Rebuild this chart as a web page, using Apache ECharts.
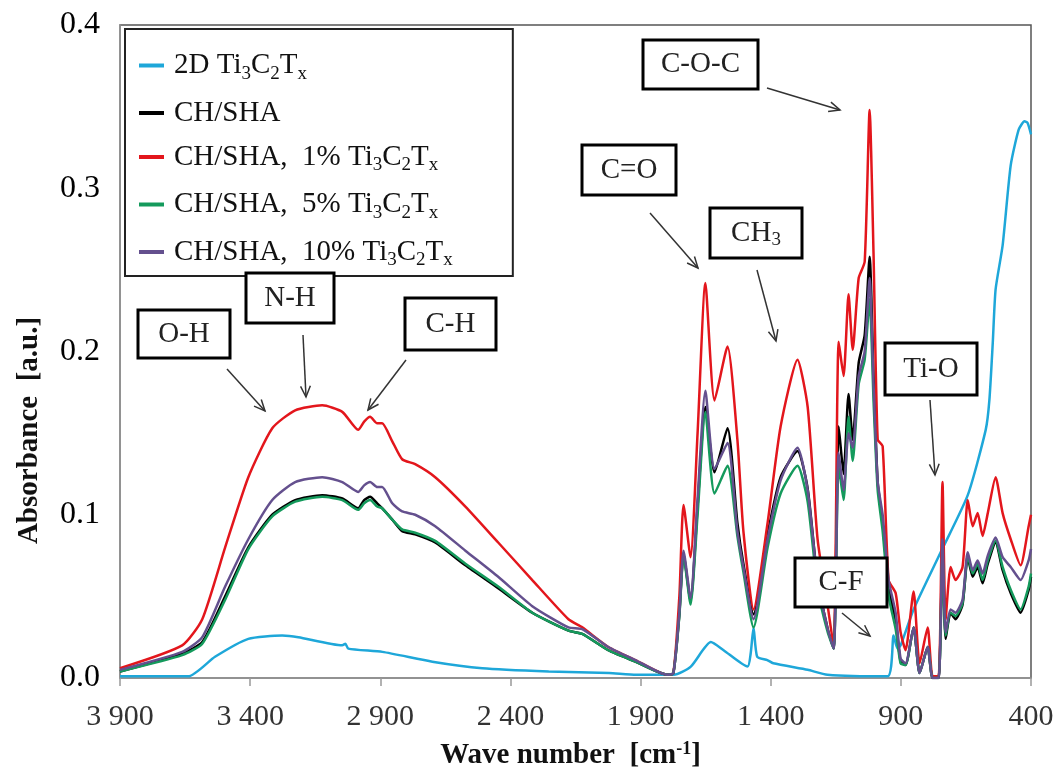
<!DOCTYPE html>
<html>
<head>
<meta charset="utf-8">
<script src="https://cdn.jsdelivr.net/npm/echarts@6/dist/echarts.min.js"></script>
<style>
html, body { margin: 0; padding: 0; background: #fff; }
#main { width: 1059px; height: 771px; }
</style>
</head>
<body>
<div id="main"></div>
<script>
// wave numbers shared by the four CH/SHA spectra
var wavenumbers = [3900, 3661, 3584, 3496, 3407, 3315, 3227, 3123, 3046, 2985,
  2962, 2939, 2912, 2893, 2854, 2816, 2766, 2689, 2573, 2447,
  2316, 2177, 2124, 2024, 1920, 1797, 1774, 1751, 1735, 1708,
  1681, 1651, 1616, 1566, 1528, 1505, 1466, 1412, 1362, 1297,
  1258, 1220, 1181, 1158, 1139, 1120, 1101, 1085, 1062, 1039,
  1020, 1005, 989, 970, 947, 920, 901, 882, 851, 828,
  797, 778, 755, 740, 728, 709, 690, 663, 643, 624,
  605, 586, 566, 536, 509, 478, 440, 409, 400];

var chsha = [0.004, 0.015, 0.022, 0.050, 0.080, 0.100, 0.109, 0.112, 0.110, 0.104,
  0.109, 0.111, 0.107, 0.104, 0.097, 0.090, 0.088, 0.083, 0.069, 0.055,
  0.040, 0.029, 0.027, 0.017, 0.010, 0.002, 0.003, 0.039, 0.076, 0.047,
  0.105, 0.166, 0.126, 0.153, 0.095, 0.070, 0.039, 0.088, 0.123, 0.139,
  0.116, 0.060, 0.030, 0.018, 0.154, 0.125, 0.174, 0.146, 0.193, 0.210,
  0.258, 0.185, 0.120, 0.095, 0.055, 0.035, 0.010, 0.008, 0.031, 0.003,
  0.019, 0.000, 0.000, 0.080, 0.024, 0.040, 0.036, 0.045, 0.074, 0.062,
  0.068, 0.058, 0.070, 0.083, 0.066, 0.052, 0.040, 0.054, 0.062];

var chsha1 = [0.006, 0.020, 0.036, 0.080, 0.123, 0.153, 0.164, 0.167, 0.163, 0.152,
  0.157, 0.160, 0.156, 0.156, 0.145, 0.134, 0.131, 0.123, 0.105, 0.083,
  0.060, 0.036, 0.031, 0.019, 0.011, 0.002, 0.003, 0.050, 0.106, 0.074,
  0.150, 0.242, 0.170, 0.203, 0.146, 0.090, 0.042, 0.095, 0.154, 0.195,
  0.166, 0.085, 0.044, 0.019, 0.206, 0.185, 0.235, 0.201, 0.245, 0.255,
  0.348, 0.260, 0.146, 0.142, 0.060, 0.052, 0.028, 0.017, 0.053, 0.009,
  0.031, 0.001, 0.001, 0.120, 0.036, 0.068, 0.060, 0.068, 0.109, 0.093,
  0.101, 0.087, 0.101, 0.123, 0.101, 0.085, 0.069, 0.093, 0.100];

var chsha5 = [0.004, 0.014, 0.021, 0.048, 0.079, 0.099, 0.108, 0.111, 0.109, 0.103,
  0.107, 0.109, 0.105, 0.104, 0.097, 0.091, 0.089, 0.084, 0.070, 0.056,
  0.040, 0.029, 0.027, 0.017, 0.010, 0.002, 0.003, 0.038, 0.075, 0.045,
  0.100, 0.163, 0.113, 0.130, 0.087, 0.065, 0.031, 0.080, 0.113, 0.130,
  0.108, 0.055, 0.028, 0.018, 0.130, 0.109, 0.160, 0.133, 0.180, 0.195,
  0.232, 0.170, 0.115, 0.090, 0.050, 0.030, 0.009, 0.008, 0.031, 0.003,
  0.019, 0.000, 0.000, 0.075, 0.026, 0.040, 0.038, 0.046, 0.075, 0.064,
  0.070, 0.060, 0.072, 0.084, 0.068, 0.054, 0.042, 0.056, 0.064];

var chsha10 = [0.005, 0.016, 0.025, 0.056, 0.085, 0.109, 0.120, 0.123, 0.120, 0.114,
  0.118, 0.120, 0.117, 0.117, 0.107, 0.102, 0.100, 0.093, 0.078, 0.062,
  0.044, 0.031, 0.030, 0.019, 0.011, 0.002, 0.003, 0.040, 0.078, 0.049,
  0.110, 0.176, 0.128, 0.144, 0.090, 0.068, 0.036, 0.085, 0.121, 0.141,
  0.115, 0.060, 0.030, 0.018, 0.138, 0.115, 0.150, 0.141, 0.185, 0.200,
  0.245, 0.180, 0.120, 0.100, 0.060, 0.040, 0.012, 0.009, 0.031, 0.003,
  0.019, 0.000, 0.000, 0.085, 0.028, 0.042, 0.040, 0.048, 0.077, 0.066,
  0.072, 0.064, 0.075, 0.086, 0.074, 0.068, 0.060, 0.072, 0.079];

// pure MXene spectrum has its own sampling
var mxeneWn = [3900, 3638, 3535, 3407, 3277, 3215, 3046, 3034, 3023, 2892,
  2700, 2508, 2253, 2021, 1917, 1772, 1707, 1630, 1581, 1489,
  1477, 1466, 1452, 1413, 1390, 1258, 1182, 951, 928, 913,
  901, 851, 747, 643, 574, 560, 547, 536, 509, 478,
  447, 425, 413, 400];
var mxene = [0.001, 0.001, 0.013, 0.024, 0.026, 0.025, 0.020, 0.021, 0.018, 0.016,
  0.010, 0.006, 0.004, 0.003, 0.002, 0.002, 0.007, 0.022, 0.017, 0.007,
  0.015, 0.031, 0.013, 0.011, 0.009, 0.005, 0.002, 0.001, 0.026, 0.018,
  0.020, 0.042, 0.077, 0.112, 0.152, 0.170, 0.205, 0.238, 0.265, 0.314,
  0.336, 0.341, 0.340, 0.333];

var seriesNames = ['2D Ti3C2Tx', 'CH/SHA', 'CH/SHA,  1% Ti3C2Tx', 'CH/SHA,  5% Ti3C2Tx', 'CH/SHA,  10% Ti3C2Tx'];
var seriesColors = ['#1ea7d9', '#000000', '#e3161c', '#149a5c', '#64508e'];

var FONT = '"Liberation Serif", "Times New Roman", serif';

function pairs(xs, ys) {
  return xs.map(function (x, i) { return [x, ys[i]]; });
}

// turn Ti3C2Tx into rich text with subscripts
function richFormula(s) {
  var parts = s.split('Ti3C2Tx');
  if (parts.length < 2) return '{n|' + s + '}';
  return '{n|' + parts[0] + 'Ti}{s|3}{n|C}{s|2}{n|T}{s|x}';
}

var myChart = echarts.init(document.getElementById('main'));

var spectra = [
  pairs(mxeneWn, mxene),
  pairs(wavenumbers, chsha),
  pairs(wavenumbers, chsha1),
  pairs(wavenumbers, chsha5),
  pairs(wavenumbers, chsha10)
];

option = {
  backgroundColor: '#fff',
  animation: false,
  grid: {
    left: 120, right: 28, top: 25, bottom: 93,
    outerBoundsMode: 'none',
    show: true, borderColor: '#555', borderWidth: 1.5
  },
  legend: {
    orient: 'vertical',
    left: 125, top: 29,
    padding: [22, 60, 6, 14],
    itemGap: 15,
    itemWidth: 25, itemHeight: 4,
    icon: 'rect',
    backgroundColor: '#fff',
    borderColor: '#222', borderWidth: 2,
    data: seriesNames,
    formatter: richFormula,
    textStyle: {
      padding: [0, 0, 0, 5],
      rich: {
        n: { fontFamily: FONT, fontSize: 29, color: '#111', lineHeight: 36 },
        s: { fontFamily: FONT, fontSize: 19, color: '#111', lineHeight: 18, verticalAlign: 'bottom' }
      }
    }
  },
  xAxis: {
    type: 'value',
    inverse: true,
    min: 400, max: 3900, interval: 500,
    name: '{b|Wave number  [cm}{sup|-1}{b|]}',
    nameLocation: 'middle',
    nameGap: 62,
    nameTextStyle: {
      padding: [0, 10, 0, 0],
      rich: {
        b: { fontFamily: FONT, fontSize: 29, fontWeight: 'bold', color: '#111', lineHeight: 32 },
        sup: { fontFamily: FONT, fontSize: 18, fontWeight: 'bold', color: '#111', lineHeight: 18, verticalAlign: 'top' }
      }
    },
    axisLine: { show: true, lineStyle: { color: '#999', width: 1.5 } },
    axisTick: { show: true, length: 8, lineStyle: { color: '#999', width: 1.5 } },
    axisLabel: {
      fontFamily: FONT, fontSize: 30, color: '#333', margin: 24,
      formatter: function (v) {
        if (v < 1000) return String(v);
        var r = v % 1000;
        return Math.floor(v / 1000) + ' ' + (r < 10 ? '00' : r < 100 ? '0' : '') + r;
      }
    },
    splitLine: { show: false }
  },
  yAxis: {
    type: 'value',
    min: 0, max: 0.4, interval: 0.1,
    name: 'Absorbance  [a.u.]',
    nameLocation: 'middle',
    nameGap: 76,
    nameTextStyle: {
      fontFamily: FONT, fontSize: 29, fontWeight: 'bold', color: '#111',
      padding: [0, 158, 0, 0]
    },
    axisLine: { show: true, lineStyle: { color: '#999', width: 1.5 } },
    axisTick: { show: false },
    axisLabel: {
      fontFamily: FONT, fontSize: 32, color: '#000', margin: 20,
      formatter: function (v) { return v.toFixed(1); }
    },
    splitLine: { show: false }
  },
  series: spectra.map(function (d, i) {
    return {
      name: seriesNames[i],
      type: 'line',
      data: d,
      showSymbol: false,
      smooth: 0.2,
      color: seriesColors[i],
      lineStyle: { width: 2.5, color: seriesColors[i] }
    };
  })
};

myChart.setOption(option);

// boxed labels with arrows (pixel layout of the annotations)
var notes = [
  { text: '{n|O-H}', box: [138, 310, 92, 48], from: [227, 369], to: [265, 411] },
  { text: '{n|N-H}', box: [246, 273, 88, 50], from: [303, 335], to: [306, 397] },
  { text: '{n|C-H}', box: [405, 298, 91, 52], from: [406, 360], to: [368, 410] },
  { text: '{n|C=O}', box: [582, 145, 94, 50], from: [650, 213], to: [698, 268] },
  { text: '{n|CH}{s|3}', box: [710, 208, 92, 50], from: [757, 270], to: [776, 341] },
  { text: '{n|C-O-C}', box: [643, 40, 115, 49], from: [767, 88], to: [840, 110] },
  { text: '{n|Ti-O}', box: [885, 343, 92, 52], from: [930, 400], to: [935, 475] },
  { text: '{n|C-F}', box: [795, 558, 92, 49], from: [842, 613], to: [870, 636] }
];

var graphics = [];
notes.forEach(function (a) {
  var b = a.box;
  graphics.push({
    type: 'rect', z: 100,
    shape: { x: b[0], y: b[1], width: b[2], height: b[3] },
    style: { fill: '#fff', stroke: '#000', lineWidth: 3 }
  });
  graphics.push({
    type: 'text', z: 101,
    x: b[0] + b[2] / 2, y: b[1] + b[3] / 2,
    style: {
      text: a.text, align: 'center', verticalAlign: 'middle',
      rich: {
        n: { fontFamily: FONT, fontSize: 29, fill: '#222', lineHeight: 34 },
        s: { fontFamily: FONT, fontSize: 19, fill: '#222', lineHeight: 18, verticalAlign: 'bottom' }
      }
    }
  });
  var ang = Math.atan2(a.to[1] - a.from[1], a.to[0] - a.from[0]);
  var len = 12, spread = 0.42;
  graphics.push({
    type: 'line', z: 100,
    shape: { x1: a.from[0], y1: a.from[1], x2: a.to[0], y2: a.to[1] },
    style: { stroke: '#333', lineWidth: 1.5 }
  });
  graphics.push({
    type: 'polyline', z: 100,
    shape: { points: [
      [a.to[0] - len * Math.cos(ang - spread), a.to[1] - len * Math.sin(ang - spread)],
      [a.to[0], a.to[1]],
      [a.to[0] - len * Math.cos(ang + spread), a.to[1] - len * Math.sin(ang + spread)]
    ] },
    style: { stroke: '#333', lineWidth: 1.5, fill: null }
  });
});

myChart.setOption({ graphic: graphics });
</script>
</body>
</html>
